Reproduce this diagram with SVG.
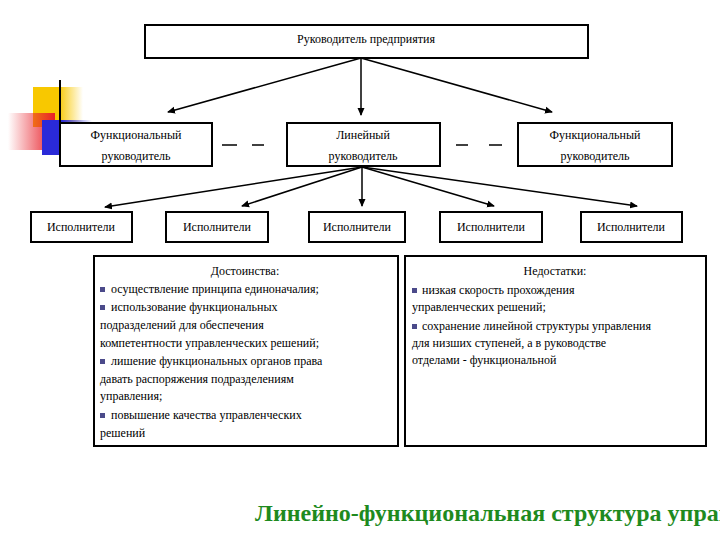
<svg xmlns="http://www.w3.org/2000/svg" width="720" height="540" viewBox="0 0 720 540">
<defs>
<style>
.b{fill:#fff;stroke:#000;stroke-width:2}
.t{font-size:12px;fill:#000}
.c line{stroke:#000;stroke-width:1.5}
.bul{fill:#4b4a8a}
</style>
<marker id="a" markerWidth="8" markerHeight="8" refX="7" refY="4" orient="auto" markerUnits="userSpaceOnUse"><path d="M0,0.5 L8,4 L0,7.5z" fill="#000"/></marker>
<linearGradient id="rg" x1="1" y1="0" x2="0" y2="0"><stop offset="0" stop-color="#e8202a"/><stop offset="1" stop-color="#e8202a" stop-opacity="0"/></linearGradient>
<linearGradient id="bg" x1="0" y1="0" x2="1" y2="0"><stop offset="0.4" stop-color="#2a2ad8"/><stop offset="1" stop-color="#2a2ad8" stop-opacity="0"/></linearGradient>
<linearGradient id="yg" x1="0" y1="0" x2="1" y2="0"><stop offset="0.5" stop-color="#f8c800"/><stop offset="1" stop-color="#f8c800" stop-opacity="0"/></linearGradient>
<linearGradient id="hg" x1="0" y1="0" x2="1" y2="0"><stop offset="0" stop-color="#000"/><stop offset="0.3" stop-color="#888"/><stop offset="1" stop-color="#ccc" stop-opacity="0.4"/></linearGradient>
</defs>
<rect width="720" height="540" fill="#fff"/>
<g id="deco">
<rect x="33" y="87" width="50" height="40" fill="url(#yg)"/>
<rect x="8" y="113" width="47" height="37" fill="url(#rg)"/>
<rect x="42" y="120" width="50" height="35" fill="url(#bg)"/>
<line x1="60" y1="80" x2="60" y2="166" stroke="#000" stroke-width="2"/>
<line x1="35" y1="142" x2="520" y2="142" stroke="url(#hg)" stroke-width="2"/>
</g>
<g class="c" id="connectors">
<line x1="361" y1="58" x2="168" y2="112" marker-end="url(#a)"/>
<line x1="361" y1="58" x2="361" y2="115" marker-end="url(#a)"/>
<line x1="361" y1="58" x2="552" y2="112" marker-end="url(#a)"/>
<line x1="362" y1="167" x2="105" y2="207" marker-end="url(#a)"/>
<line x1="362" y1="167" x2="242" y2="206" marker-end="url(#a)"/>
<line x1="362" y1="167" x2="362" y2="206" marker-end="url(#a)"/>
<line x1="362" y1="167" x2="494" y2="206" marker-end="url(#a)"/>
<line x1="362" y1="167" x2="637" y2="206" marker-end="url(#a)"/>
<line x1="222" y1="145" x2="237" y2="145"/><line x1="252" y1="145" x2="264" y2="145"/>
<line x1="456" y1="145" x2="468" y2="145"/><line x1="489" y1="145" x2="502" y2="145"/>
</g>
<g font-family="Liberation Serif, serif">
<g id="top"><rect class="b" x="145" y="25" width="443" height="33"/><text class="t" x="366" y="43" text-anchor="middle">Руководитель предприятия</text></g>
<g id="f1"><rect class="b" x="60" y="123" width="152" height="43"/><text class="t" x="136" y="139" text-anchor="middle">Функциональный</text><text class="t" x="136" y="160" text-anchor="middle">руководитель</text></g>
<g id="lin"><rect class="b" x="287" y="123" width="153" height="43"/><text class="t" x="363" y="139" text-anchor="middle">Линейный</text><text class="t" x="363" y="160" text-anchor="middle">руководитель</text></g>
<g id="f2"><rect class="b" x="518" y="123" width="154" height="43"/><text class="t" x="595" y="139" text-anchor="middle">Функциональный</text><text class="t" x="595" y="160" text-anchor="middle">руководитель</text></g>
<g id="e1"><rect class="b" x="31" y="212" width="101" height="30"/><text class="t" x="81" y="231" text-anchor="middle">Исполнители</text></g>
<g id="e2"><rect class="b" x="166" y="212" width="102" height="30"/><text class="t" x="217" y="231" text-anchor="middle">Исполнители</text></g>
<g id="e3"><rect class="b" x="309" y="212" width="96" height="30"/><text class="t" x="357" y="231" text-anchor="middle">Исполнители</text></g>
<g id="e4"><rect class="b" x="440" y="212" width="102" height="30"/><text class="t" x="491" y="231" text-anchor="middle">Исполнители</text></g>
<g id="e5"><rect class="b" x="581" y="212" width="101" height="30"/><text class="t" x="631" y="231" text-anchor="middle">Исполнители</text></g>
<g id="adv"><rect class="b" x="94" y="256" width="304" height="190"/>
<text class="t" x="245" y="275" text-anchor="middle">Достоинства:</text>
<rect class="bul" x="100" y="287" width="5" height="5"/><text class="t" x="111" y="293">осуществление принципа единоначалия;</text>
<rect class="bul" x="100" y="305" width="5" height="5"/><text class="t" x="111" y="311">использование функциональных</text>
<text class="t" x="100" y="329">подразделений для обеспечения</text>
<text class="t" x="100" y="347">компетентности управленческих решений;</text>
<rect class="bul" x="100" y="359" width="5" height="5"/><text class="t" x="111" y="365">лишение функциональных органов права</text>
<text class="t" x="100" y="383">давать распоряжения подразделениям</text>
<text class="t" x="100" y="400">управления;</text>
<rect class="bul" x="100" y="413" width="5" height="5"/><text class="t" x="111" y="419">повышение качества управленческих</text>
<text class="t" x="100" y="437">решений</text></g>
<g id="dis"><rect class="b" x="405" y="256" width="301" height="190"/>
<text class="t" x="555" y="275" text-anchor="middle">Недостатки:</text>
<rect class="bul" x="412" y="288" width="5" height="5"/><text class="t" x="422" y="294">низкая скорость прохождения</text>
<text class="t" x="412" y="311">управленческих решений;</text>
<rect class="bul" x="412" y="324" width="5" height="5"/><text class="t" x="422" y="330">сохранение линейной структуры управления</text>
<text class="t" x="412" y="347">для низших ступеней, а в руководстве</text>
<text class="t" x="412" y="364">отделами - функциональной</text></g>
<text x="255" y="521" font-size="24" font-weight="bold" fill="#1e8a1e">Линейно-функциональная структура управления</text>
</g>
</svg>
